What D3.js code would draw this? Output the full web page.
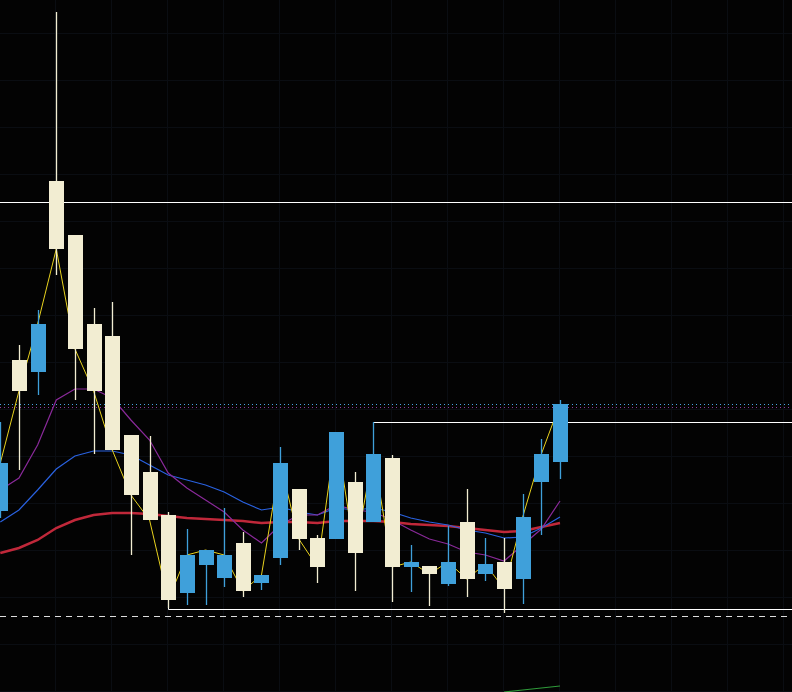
<!DOCTYPE html>
<html><head><meta charset="utf-8">
<script src="https://cdn.jsdelivr.net/npm/d3@7"></script>
<style>html,body{margin:0;padding:0;background:#030303;overflow:hidden}</style>
</head><body>
<svg id="c" width="792" height="692"></svg>
<script>
// price data (open, high, low, close)
const opens  = [489,640,628,819,765,676,664,565,528,485,407,435,422,457,417,442,511,462,461,518,478,542,433,434,416,478,426,438,421,518,538];
const highs  = [578,655,690,988,765,692,698,565,564,488,471,450,492,468,425,553,511,465,568,528,578,545,455,434,474,511,462,462,506,561,600];
const lows   = [482,530,605,725,600,546,550,445,480,392,395,395,413,403,410,435,450,417,461,409,478,398,408,394,414,403,419,387,396,465,521];
const closes = [537,609,676,751,651,609,550,505,480,400,445,450,445,409,425,537,461,433,568,447,546,433,438,426,438,421,436,411,483,546,596];
const ma5    = [510,522,555,600,611,611,602,580,560,527,512,500,488,470,457,475,485,485,495,490,488,480,470,461,456,448,445,439,455,471,499];
const ma10   = [478,490,510,531,544,549,549,545,535,525,520,515,508,498,490,493,488,485,492,490,492,488,482,478,475,470,467,462,463,472,483];
const ma20   = [447,452,460,472,480,485,487,487,486,484,482,481,480,479,477,478,478,477,479,479,479,478,476,475,474,472,470,468,469,473,477];
const maLong = [null,null,null,null,null,null,null,null,null,null,null,null,null,null,null,null,null,null,null,null,null,null,null,null,null,null,null,308,310,312,314];
const levels = {high:798, box:578, low:391, dashed:384, dotBlue:596, dotPurple:593};
const gridPrices = [967,920,873,826,779,732,685,638,591,544,497,450,403,356,309];

const W=792,H=692;
const svg=d3.select("#c");
const y=d3.scaleLinear().domain([308,1000]).range([H,0]);
const x=d3.scaleLinear().domain([0,30]).range([0.3,560]);
const py=v=>Math.round(y(v))+0.5;
svg.append("rect").attr("width",W).attr("height",H).attr("fill","#030303");
const g=svg.append("g");
// grid
for(let gx=55; gx<W; gx+=56) g.append("line").attr("x1",gx+0.5).attr("x2",gx+0.5).attr("y1",0).attr("y2",H).attr("stroke","#0a0d12").attr("stroke-width",1);
g.selectAll(".hg").data(gridPrices).enter().append("line").attr("x1",0).attr("x2",W)
 .attr("y1",d=>py(d)).attr("y2",d=>py(d)).attr("stroke","#0a0d12").attr("stroke-width",1);
// level lines
svg.append("line").attr("x1",0).attr("x2",W).attr("y1",py(levels.high)).attr("y2",py(levels.high)).attr("stroke","#fff").attr("stroke-width",1);
svg.append("line").attr("x1",0).attr("x2",W).attr("y1",py(levels.dotBlue)).attr("y2",py(levels.dotBlue)).attr("stroke","#4aa3df").attr("stroke-dasharray","1,3");
svg.append("line").attr("x1",0).attr("x2",W).attr("y1",py(levels.dotPurple)).attr("y2",py(levels.dotPurple)).attr("stroke","#8a3a9a").attr("stroke-dasharray","1,3");
svg.append("path").attr("d",`M${Math.round(x(20))+0.5},${y(highs[20])}V${py(levels.box)}H${W}`).attr("fill","none").attr("stroke","#fff").attr("stroke-width",1);
svg.append("path").attr("d",`M${Math.round(x(9))+0.5},${y(lows[9])}V${py(levels.low)}H${W}`).attr("fill","none").attr("stroke","#fff").attr("stroke-width",1);
svg.append("line").attr("x1",0).attr("x2",W).attr("y1",py(levels.dashed)).attr("y2",py(levels.dashed)).attr("stroke","#ddd").attr("stroke-dasharray","6,5");
// MAs
const line=d3.line().defined(d=>d!=null).x((d,i)=>x(i)).y(d=>y(d));
svg.append("path").datum(ma20).attr("d",line).attr("fill","none").attr("stroke","#c0283a").attr("stroke-width",2.5);
svg.append("path").datum(ma10).attr("d",line).attr("fill","none").attr("stroke","#2a62e0").attr("stroke-width",1.2);
svg.append("path").datum(ma5).attr("d",line).attr("fill","none").attr("stroke","#8a2a9a").attr("stroke-width",1.2);
svg.append("path").datum(maLong).attr("d",line).attr("fill","none").attr("stroke","#2f9a3a").attr("stroke-width",1.2);
// close line
svg.append("path").datum(closes).attr("d",line).attr("fill","none").attr("stroke","#e8d21e").attr("stroke-width",1);
// candles
const up="#3fa0da", dn="#f2edd2";
const c=svg.selectAll(".c").data(opens.map((o,i)=>({i,o,h:highs[i],l:lows[i],c:closes[i]}))).enter().append("g");
c.append("line").attr("x1",d=>Math.round(x(d.i))+0.5).attr("x2",d=>Math.round(x(d.i))+0.5).attr("y1",d=>y(d.h)).attr("y2",d=>y(d.l))
 .attr("stroke",d=>d.c>=d.o?up:dn).attr("stroke-width",1.3);
c.append("rect").attr("x",d=>Math.round(x(d.i))-7).attr("width",15)
 .attr("y",d=>y(Math.max(d.o,d.c))).attr("height",d=>Math.max(1,Math.abs(y(d.o)-y(d.c))))
 .attr("fill",d=>d.c>=d.o?up:dn);
</script>
</body></html>
